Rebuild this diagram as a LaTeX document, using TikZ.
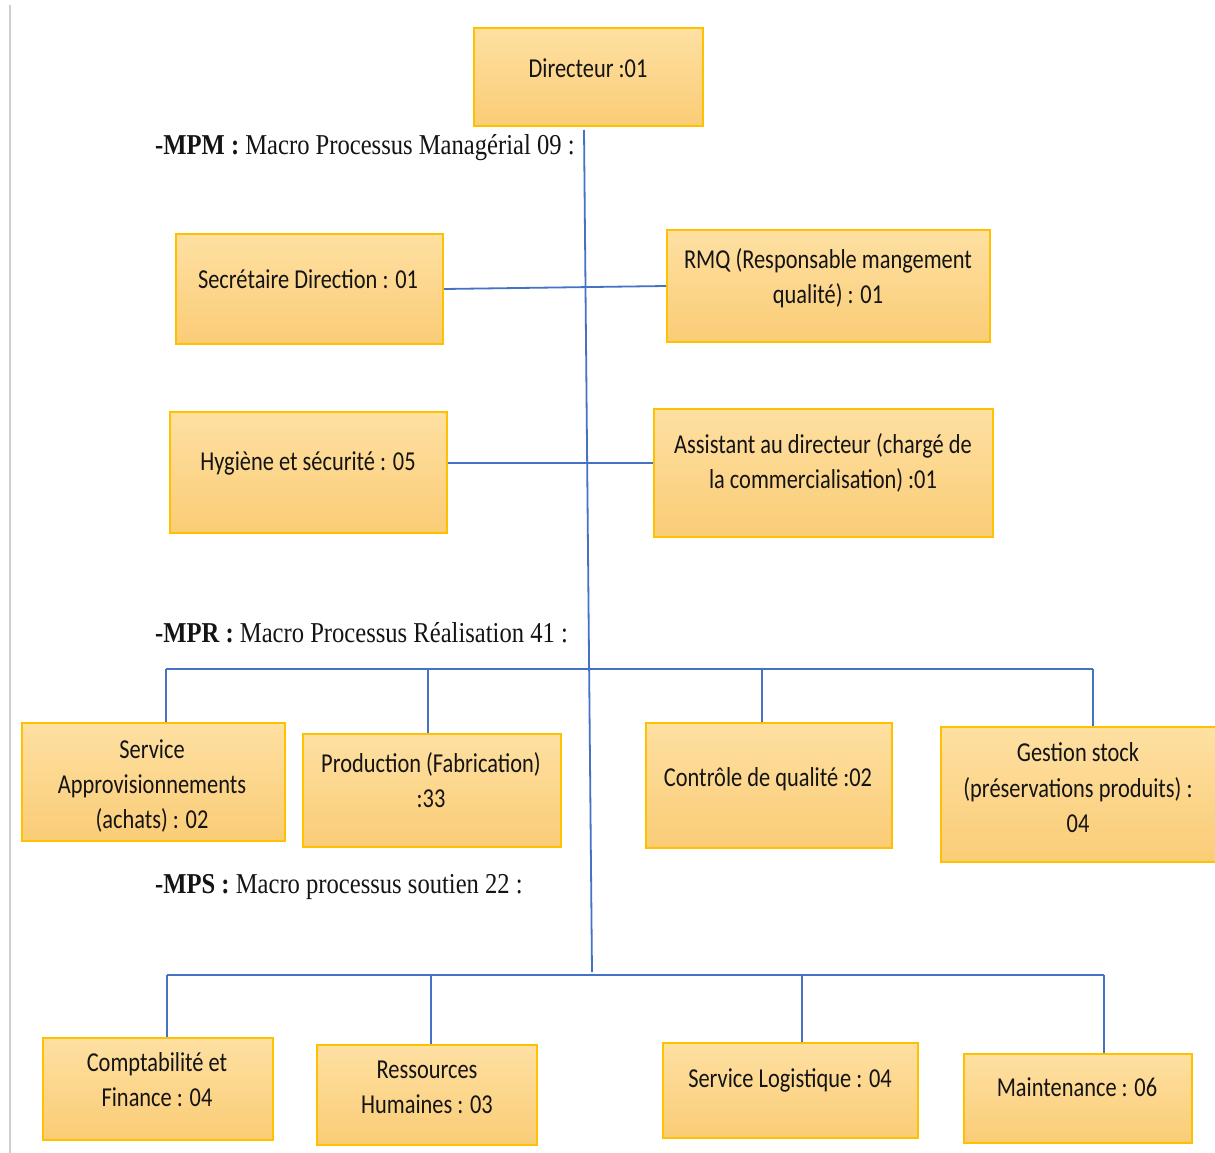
\documentclass[tikz,border=0pt]{standalone}
\usepackage{fontspec}
\setmainfont{Liberation Serif}
\newfontfamily\boxfont{Carlito}
\usepackage{graphicx}
\definecolor{boxtop}{RGB}{254,224,162}
\definecolor{boxbot}{RGB}{250,204,118}
\definecolor{boxline}{RGB}{255,192,0}
\definecolor{conn}{RGB}{68,114,196}
\definecolor{edge}{RGB}{205,205,205}
\newcommand{\bt}[1]{\scalebox{1}[1.22]{\boxfont\fontsize{22.4}{28.7}\selectfont\begin{tabular}{@{}c@{}}#1\end{tabular}}}
\newcommand{\lt}[1]{\scalebox{1}[1.17]{\fontsize{24.6}{29}\selectfont #1}}
\begin{document}
\begin{tikzpicture}[x=1pt,y=1pt,
  box/.style={draw=boxline, line width=2pt, top color=boxtop, bottom color=boxbot, rectangle, inner sep=0pt},
  txt/.style={inner sep=0pt, text=black!92},
  lab/.style={inner sep=0pt, anchor=base west, text=black!92},
  link/.style={draw=conn, line width=1.8pt}]
\useasboundingbox (0,0) rectangle (1215,-1153);
\fill[white] (0,0) rectangle (1215,-1153);
\draw[edge, line width=1.5pt] (10,-5) -- (10,-1153);
% boxes
\node[box, minimum width=229pt, minimum height=98pt] (dir) at (588.5,-77) {};
\node[box, minimum width=267pt, minimum height=110pt] (sec) at (309.5,-289) {};
\node[box, minimum width=323pt, minimum height=112pt] (rmq) at (828.5,-286) {};
\node[box, minimum width=277pt, minimum height=121pt] (hyg) at (308.5,-472.5) {};
\node[box, minimum width=339pt, minimum height=128pt] (ast) at (823.5,-473) {};
\node[box, minimum width=263pt, minimum height=118pt] (sa) at (153.5,-782) {};
\node[box, minimum width=258pt, minimum height=113pt] (prod) at (432,-790.5) {};
\node[box, minimum width=246pt, minimum height=125pt] (ctrl) at (769,-785.5) {};
\node[box, minimum width=279pt, minimum height=135pt] (gest) at (1080.5,-794.5) {};
\node[box, minimum width=230pt, minimum height=102pt] (compta) at (158,-1089) {};
\node[box, minimum width=220pt, minimum height=100pt] (rh) at (427,-1095) {};
\node[box, minimum width=255pt, minimum height=95pt] (log) at (790.5,-1090.5) {};
\node[box, minimum width=228pt, minimum height=89pt] (maint) at (1078,-1098.5) {};
% box texts
\node[txt] (dirT) at (588,-70) {\bt{Directeur :01}};
\node[txt] (secT) at (308,-281) {\bt{Secrétaire Direction : 01}};
\node[txt] (rmqT) at (828,-279) {\bt{RMQ (Responsable mangement\\qualité) : 01}};
\node[txt] (hygT) at (308,-463) {\bt{Hygiène et sécurité : 05}};
\node[txt] (astT) at (823,-464) {\bt{Assistant au directeur (chargé de\\la commercialisation) :01}};
\node[txt] (saT) at (152,-786.5) {\bt{Service\\Approvisionnements\\(achats) : 02}};
\node[txt] (prodT) at (431,-783) {\bt{Production (Fabrication)\\:33}};
\node[txt] (ctrlT) at (768,-779) {\bt{Contrôle de qualité :02}};
\node[txt] (gestT) at (1078,-790) {\bt{Gestion stock\\(préservations produits) :\\04}};
\node[txt] (comptaT) at (157,-1081.5) {\bt{Comptabilité et\\Finance : 04}};
\node[txt] (rhT) at (427,-1088.5) {\bt{Ressources\\Humaines : 03}};
\node[txt] (logT) at (790,-1080) {\bt{Service Logistique : 04}};
\node[txt] (maintT) at (1077,-1089) {\bt{Maintenance : 06}};
% section labels
\node[lab] (mpm) at (155,-154) {\lt{\textbf{-MPM :} Macro Processus Managérial 09 :}};
\node[lab] (mpr) at (155,-642) {\lt{\textbf{-MPR :} Macro Processus Réalisation 41 :}};
\node[lab] (mps) at (155,-893) {\lt{\textbf{-MPS :} Macro processus soutien 22 :}};
% connectors
\coordinate (tTop) at (584,-130);
\coordinate (tBot) at (592,-972);
\draw[link] (tTop) -- (tBot);
\draw[link] (sec.east) -- (rmq.west);
\coordinate (hy) at (0,-463);
\draw[link] (hyg.east |- hy) -- (ast.west |- hy);
\coordinate (r1) at (166,-669);
\coordinate (r2) at (428,-669);
\coordinate (r3) at (762,-669);
\coordinate (r4) at (1093,-669);
\draw[link] (r1) -- (r4);
\draw[link] (r1) -- (sa.north -| r1);
\draw[link] (r2) -- (prod.north -| r2);
\draw[link] (r3) -- (ctrl.north -| r3);
\draw[link] (r4) -- (gest.north -| r4);
\coordinate (s1) at (167,-975);
\coordinate (s2) at (431,-975);
\coordinate (s3) at (802,-975);
\coordinate (s4) at (1104,-975);
\draw[link] (s1) -- (s4);
\draw[link] (s1) -- (compta.north -| s1);
\draw[link] (s2) -- (rh.north -| s2);
\draw[link] (s3) -- (log.north -| s3);
\draw[link] (s4) -- (maint.north -| s4);
\end{tikzpicture}
\end{document}
